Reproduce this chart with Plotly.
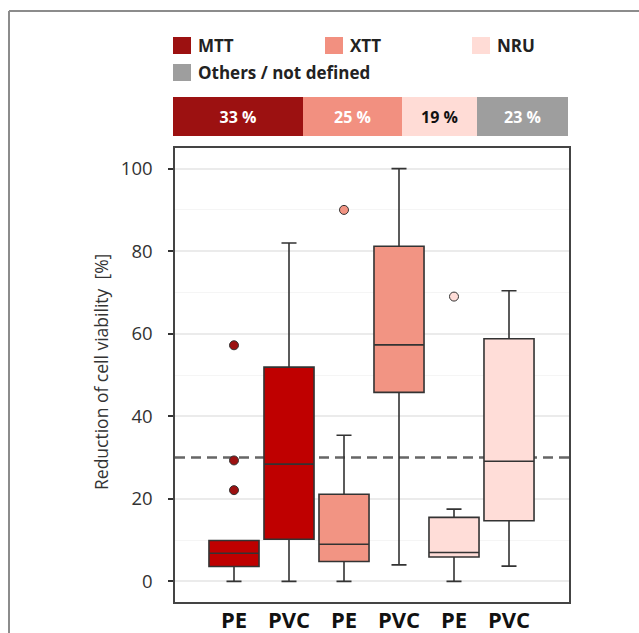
import plotly.graph_objects as go

# ---------------- data ----------------
methods = ["MTT", "XTT", "NRU", "Others / not defined"]
shares = [33, 25, 19, 23]
share_labels = ["33 %", "25 %", "19 %", "23 %"]

polymers = ["PE", "PVC", "PE", "PVC", "PE", "PVC"]
box_method = ["MTT", "MTT", "XTT", "XTT", "NRU", "NRU"]
q1 = [3.6, 10.2, 4.8, 45.8, 5.9, 14.7]
median = [6.8, 28.4, 9.0, 57.3, 7.0, 29.1]
q3 = [9.9, 51.9, 21.1, 81.2, 15.5, 58.8]
lower = [0.0, 0.0, 0.0, 4.0, 0.0, 3.7]
upper = [9.9, 82.0, 35.4, 100.0, 17.5, 70.4]
outliers = [[57.2, 29.3, 22.1], [], [90.0], [], [69.0], []]
threshold = 30

y_ticks = [0, 20, 40, 60, 80, 100]
y_minor = [10, 50, 70, 90]  # 30 is covered by the threshold line

# ---------------- styles ----------------
legend_colors = {"MTT": "#9c1111", "XTT": "#f29080", "NRU": "#ffdcd6",
                 "Others / not defined": "#9e9e9e"}
box_colors = {"MTT": "#bf0000", "XTT": "#f29483", "NRU": "#ffddd8"}
point_colors = {"MTT": "#9c1111", "XTT": "#f29483", "NRU": "#ffddd8"}
share_text_colors = ["white", "white", "#111111", "white"]

W, H = 639, 633
ML, MR, MT, MB = 173, 70, 0, 31
PW = W - ML - MR
PH = H - MT - MB


def px(x):
    return (x - ML) / PW


def py(y):
    return (PH + MT - y) / PH


FONT = "Open Sans"
x_range = [1 - 59 / 55, 6 + 60 / 55]

fig = go.Figure()

positions = list(range(1, len(polymers) + 1))

for i, pos in enumerate(positions):
    m = box_method[i]
    fig.add_trace(go.Box(
        x=[pos], q1=[q1[i]], median=[median[i]], q3=[q3[i]],
        lowerfence=[lower[i]], upperfence=[upper[i]],
        width=0.91, whiskerwidth=0.3,
        fillcolor=box_colors[m], line=dict(color="#333333", width=1.6),
        boxpoints=False, showlegend=False, hoverinfo="skip",
        xaxis="x", yaxis="y",
    ))
    if outliers[i]:
        fig.add_trace(go.Scatter(
            x=[pos] * len(outliers[i]), y=outliers[i], mode="markers",
            marker=dict(size=9, color=point_colors[m],
                        line=dict(color="#333333", width=1)),
            showlegend=False, hoverinfo="skip", xaxis="x", yaxis="y",
        ))

# top stacked share bar
for i, m in enumerate(methods):
    fig.add_trace(go.Bar(
        x=[shares[i]], y=[0], orientation="h", width=1,
        marker=dict(color=legend_colors[m], line=dict(width=0)),
        text=[share_labels[i]], textposition="inside",
        insidetextanchor="middle",
        textfont=dict(family=FONT, size=16, weight="bold",
                      color=share_text_colors[i]),
        showlegend=False, hoverinfo="skip", xaxis="x2", yaxis="y2",
    ))

# legend drawn as squares + text
legend_pos = [(173, 37), (325, 37), (472, 37), (173, 64)]
shapes = []
annotations = []
for (lx, ly), m in zip(legend_pos, methods):
    shapes.append(dict(type="rect", xref="paper", yref="paper",
                       x0=px(lx), x1=px(lx + 18), y0=py(ly + 17), y1=py(ly),
                       fillcolor=legend_colors[m], line=dict(width=0)))
    annotations.append(dict(xref="paper", yref="paper", x=px(lx + 23),
                            y=py(ly + 8.5), text=m, showarrow=False,
                            xanchor="left", yanchor="middle",
                            font=dict(family=FONT, size=17, weight="bold",
                                      color="#222222")))

# threshold line, behind the boxes
shapes.append(dict(type="line", xref="x", yref="y", x0=x_range[0],
                   x1=x_range[1], y0=threshold, y1=threshold, layer="below",
                   line=dict(color="#666666", width=2.5, dash="10px,6px")))

# outer frame lines
shapes.append(dict(type="line", xref="paper", yref="paper",
                   x0=px(9), x1=px(W + 5), y0=py(11), y1=py(11),
                   line=dict(color="#8c8c8c", width=2)))
shapes.append(dict(type="line", xref="paper", yref="paper",
                   x0=px(9), x1=px(9), y0=py(11), y1=py(H + 5),
                   line=dict(color="#8c8c8c", width=2)))

# y-axis title
annotations.append(dict(xref="paper", yref="paper", x=px(101),
                        y=py(372), text="Reduction of cell viability  [%]",
                        textangle=-90, showarrow=False,
                        xanchor="center", yanchor="middle",
                        font=dict(family=FONT, size=17.5, color="#333333")))

fig.update_layout(
    template="none",
    width=W, height=H,
    margin=dict(l=ML, r=MR, t=MT, b=MB, pad=0, autoexpand=False),
    paper_bgcolor="white", plot_bgcolor="white",
    barmode="stack", bargap=0,
    font=dict(family=FONT, color="#333333"),
    shapes=shapes, annotations=annotations,
    xaxis=dict(
        domain=[px(175), 1], range=x_range,
        tickmode="array", tickvals=positions, ticktext=polymers,
        tickfont=dict(family=FONT, size=22, weight="bold", color="#111111"),
        showgrid=False, zeroline=False, showline=True, mirror=True,
        linecolor="#444444", linewidth=1.5, ticks="", ticklabelstandoff=-2,
        automargin=False,
    ),
    yaxis=dict(
        domain=[0, py(148)], range=[-5, 105],
        tickmode="array", tickvals=y_ticks,
        tickfont=dict(family=FONT, size=18.5, color="#333333"),
        showgrid=True, gridcolor="#ebebeb", gridwidth=1.5,
        minor=dict(tickmode="array", tickvals=y_minor, showgrid=True,
                   gridcolor="#f5f5f5", gridwidth=1),
        zeroline=False, showline=True, mirror=True,
        linecolor="#444444", linewidth=1.5,
        ticks="outside", ticklen=5, tickcolor="#333333", tickwidth=1.5,
        ticklabelstandoff=12, automargin=False,
    ),
    xaxis2=dict(domain=[0, px(568)], range=[0, 100], visible=False,
                anchor="y2", fixedrange=True),
    yaxis2=dict(domain=[py(136), py(97)], range=[-0.5, 0.5], visible=False,
                anchor="x2", fixedrange=True),
)

fig.write_html("out.html")
